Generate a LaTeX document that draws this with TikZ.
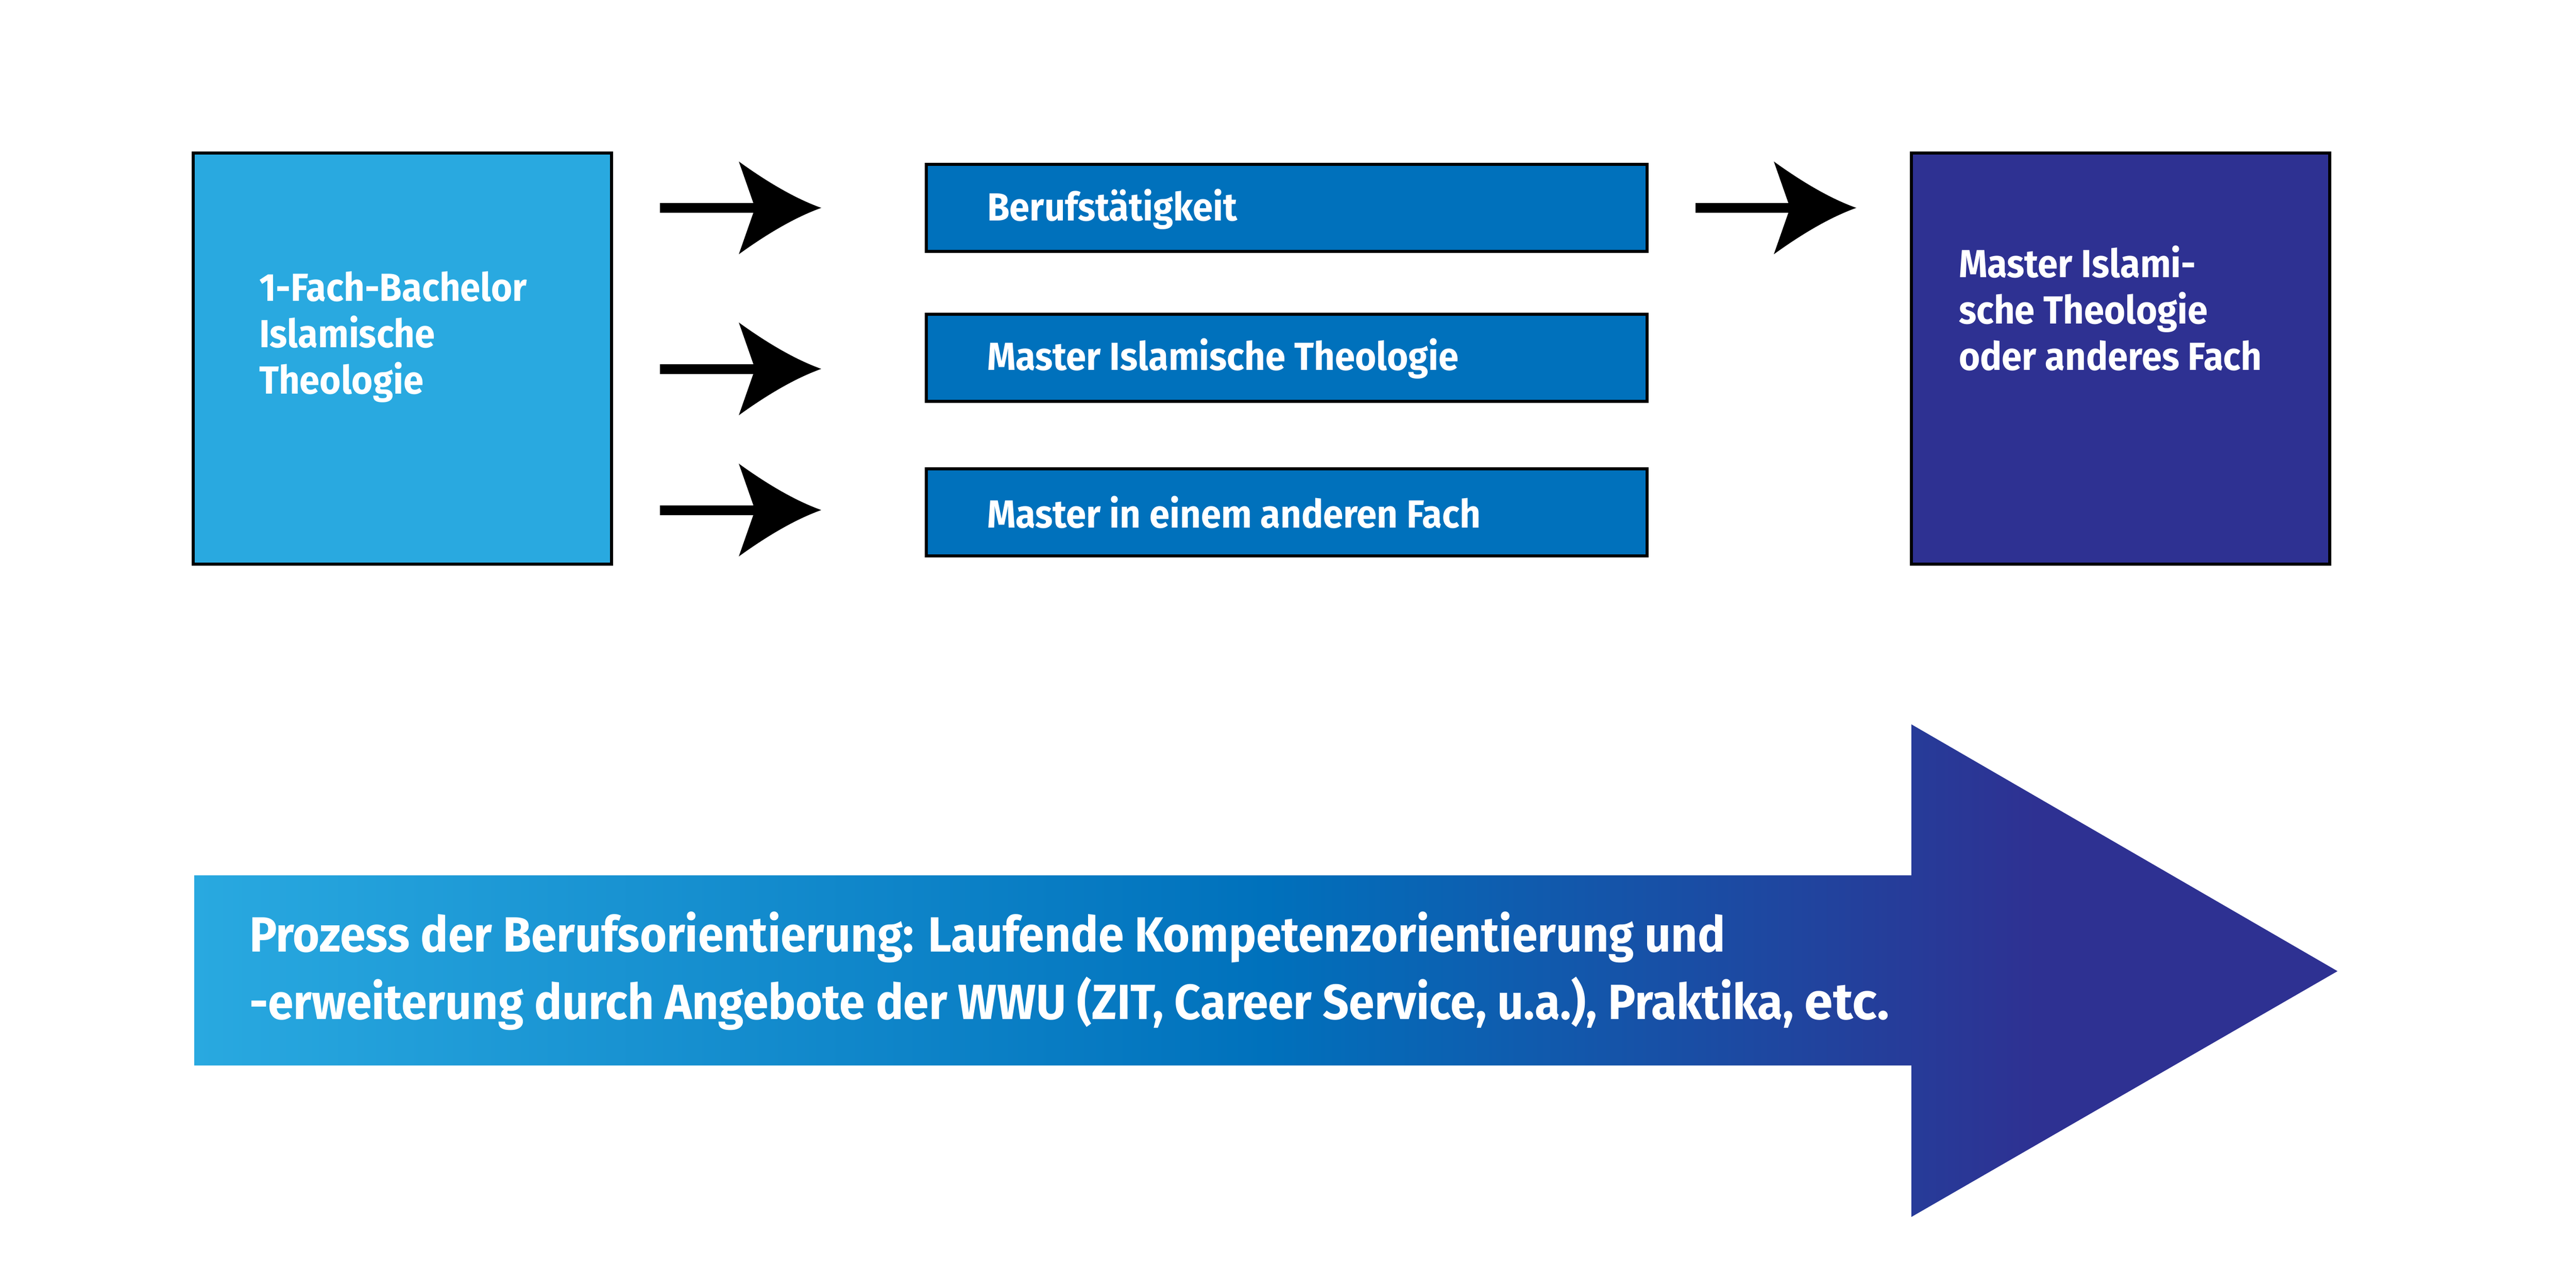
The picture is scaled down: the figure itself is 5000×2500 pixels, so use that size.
\documentclass[tikz,border=0pt]{standalone}
\usepackage{xcolor}
\usepackage{fontspec}
\setmainfont{Fira Sans}[FakeStretch=0.93]
\newfontfamily\widefont{Fira Sans}
\usepackage{tikz}
\usetikzlibrary{positioning,calc,arrows.meta}

\definecolor{skyblue}{HTML}{29A9E0}
\definecolor{uniblue}{HTML}{0071BC}
\definecolor{deepblue}{HTML}{2E3192}

\pgfdeclarehorizontalshading{procshade}{100bp}{color(0bp)=(skyblue); color(25bp)=(skyblue); color(50bp)=(uniblue); color(68bp)=(deepblue); color(100bp)=(deepblue)}

% arrow head with hollow sides
\pgfdeclarearrow{
  name = Swoop,
  setup code = {
    \pgfarrowssettipend{0pt}
    \pgfarrowssetlineend{-12pt}
    \pgfarrowssetvisualbackend{-16pt}
    \pgfarrowssetbackend{-16pt}
    \pgfarrowshullpoint{0pt}{0pt}
    \pgfarrowshullpoint{-16pt}{9pt}
    \pgfarrowshullpoint{-16pt}{-9pt}
  },
  drawing code = {
    \pgfpathmoveto{\pgfpointorigin}
    \pgfpathquadraticcurveto{\pgfpoint{-7pt}{2.5pt}}{\pgfpoint{-16pt}{9pt}}
    \pgfpathlineto{\pgfpoint{-12.85pt}{0pt}}
    \pgfpathlineto{\pgfpoint{-16pt}{-9pt}}
    \pgfpathquadraticcurveto{\pgfpoint{-7pt}{-2.5pt}}{\pgfpointorigin}
    \pgfpathclose
    \pgfusepathqfill
  }
}

\tikzset{
  tile/.style={rectangle, draw=black, line width=0.6pt, inner sep=0pt},
  bigtile/.style={tile, minimum width=81.2pt, minimum height=79.8pt},
  bartile/.style={tile, fill=uniblue, minimum width=139.9pt, minimum height=16.9pt},
  tiletext/.style={inner sep=0pt, text=white, align=left, font=\bfseries\fontsize{7.6}{9}\selectfont},
  flow/.style={line width=1.9pt, -{Swoop}}
}

\begin{document}
\begin{tikzpicture}[x=0.1pt, y=-0.1pt]
    \useasboundingbox (0,0) rectangle (5000,2500);

    % Boxes
    \node[bigtile, fill=skyblue] (bach) at (781,696) {};
    \node[bartile] (job) at (2497.5,403.5) {};
    \node[bartile] (mastertheo) at (2497.5,694.5) {};
    \node[bartile] (masterother) at (2497.5,994) {};
    \node[bigtile, fill=deepblue] (goal) at (4116,696) {};

    \node[tiletext, anchor=base west] (bachtxt) at ($(bach.north west)+(129,470)$) {1-Fach-Bachelor\\Islamische\\Theologie};
    \node[tiletext, anchor=base west] (jobtxt) at ($(job.west)+(119,25)$) {Berufstätigkeit};
    \node[tiletext, anchor=base west] (mastertheotxt) at ($(mastertheo.west)+(119,24)$) {Master Islamische Theologie};
    \node[tiletext, anchor=base west] (masterothertxt) at ($(masterother.west)+(119,30)$) {Master in einem anderen Fach};
    \node[tiletext, anchor=base west] (goaltxt) at ($(goal.north west)+(93,424)$) {Master Islami-\\sche Theologie\\oder anderes Fach};

    % Arrows
    \coordinate (a1s) at ($(job.west)+(-514,0)$);
    \coordinate (a1e) at ($(job.west)+(-201,0)$);
    \coordinate (a2s) at ($(mastertheo.west)+(-514,21.5)$);
    \coordinate (a2e) at ($(mastertheo.west)+(-201,21.5)$);
    \coordinate (a3s) at ($(masterother.west)+(-514,-4)$);
    \coordinate (a3e) at ($(masterother.west)+(-201,-4)$);
    \coordinate (a4s) at ($(job.east)+(91,0)$);
    \coordinate (a4e) at ($(job.east)+(403,0)$);
    \draw[flow] (a1s) -- (a1e);
    \draw[flow] (a2s) -- (a2e);
    \draw[flow] (a3s) -- (a3e);
    \draw[flow] (a4s) -- (a4e);

    % Process arrow
    \coordinate (proc) at (377,1699);
    \shade[shading=procshade] (proc) -- (3710,1699) -- (3710,1406) -- (4537,1885) -- (3710,2362) -- (3710,2068) -- (377,2068) -- cycle;
    \node[inner sep=0pt, text=white, align=left, anchor=base west, font=\bfseries\fontsize{9.6}{13.1}\selectfont] (proctxt) at ($(proc)+(105,279)$) {Prozess der Berufsorientierung: Laufende Kompetenzorientierung und\\-erweiterung durch Angebote der WWU (ZIT, Career Service, u.a.), Praktika, {\widefont\fontsize{10}{13.1}\selectfont etc.}};
\end{tikzpicture}
\end{document}
